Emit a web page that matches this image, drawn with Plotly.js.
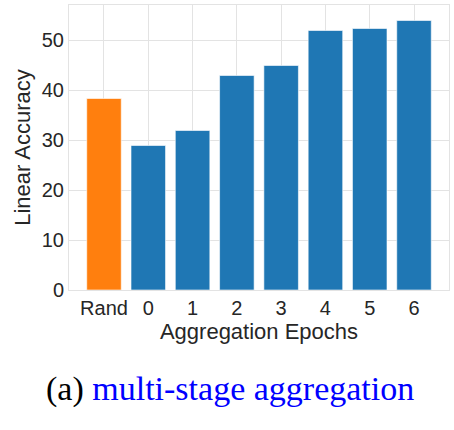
<!DOCTYPE html>
<html>
<head>
<script src="https://cdn.plot.ly/plotly-3.0.1.min.js"></script>
<style>html,body{margin:0;padding:0;background:#fff;}#chart{width:454px;height:430px;}</style>
</head>
<body>
<div id="chart"></div>
<script>
const categories = ["Rand", "0", "1", "2", "3", "4", "5", "6"];
const accuracy = [38.3, 28.9, 31.9, 42.9, 44.9, 51.9, 52.3, 53.9];
const barColors = ["#ff7f0e", "#1f77b4", "#1f77b4", "#1f77b4", "#1f77b4", "#1f77b4", "#1f77b4", "#1f77b4"];
const yTicks = [0, 10, 20, 30, 40, 50];

const trace = {
  type: "bar",
  x: categories,
  y: accuracy,
  marker: {color: barColors, line: {color: "rgba(255,255,255,0.6)", width: 1}},
  width: 0.78,
  hoverinfo: "none"
};

const layout = {
  width: 454,
  height: 430,
  margin: {l: 69, r: 5, t: 5, b: 140},
  paper_bgcolor: "#ffffff",
  plot_bgcolor: "#ffffff",
  font: {family: "Liberation Sans, Arial, sans-serif", color: "#262626"},
  showlegend: false,
  xaxis: {
    type: "category",
    range: [-0.79, 7.79],
    showgrid: true,
    gridcolor: "#e3e3e3",
    gridwidth: 1,
    showline: true,
    linecolor: "#e3e3e3",
    mirror: true,
    ticks: "",
    tickfont: {size: 20, color: "#262626"},
    title: {text: "Aggregation Epochs", font: {size: 22, color: "#262626"}, standoff: 4},
    zeroline: false
  },
  yaxis: {
    range: [0, 57],
    tickvals: yTicks,
    showgrid: true,
    gridcolor: "#e3e3e3",
    gridwidth: 1,
    showline: true,
    linecolor: "#e3e3e3",
    mirror: true,
    ticks: "",
    tickfont: {size: 20, color: "#262626"},
    title: {text: "Linear Accuracy", font: {size: 22, color: "#262626"}, standoff: 5},
    zeroline: false
  },
  annotations: [{
    xref: "paper", yref: "paper",
    x: 0.423, y: 0, xanchor: "center", yanchor: "middle",
    yshift: -99,
    showarrow: false,
    text: "<span style='color:#000000'>(a) </span><span style='color:#0000ff'>multi-stage aggregation</span>",
    font: {family: "Liberation Serif, Times New Roman, serif", size: 34, color: "#0000ff"}
  }]
};

Plotly.newPlot("chart", [trace], layout, {staticPlot: true, displayModeBar: false});
</script>
</body>
</html>
